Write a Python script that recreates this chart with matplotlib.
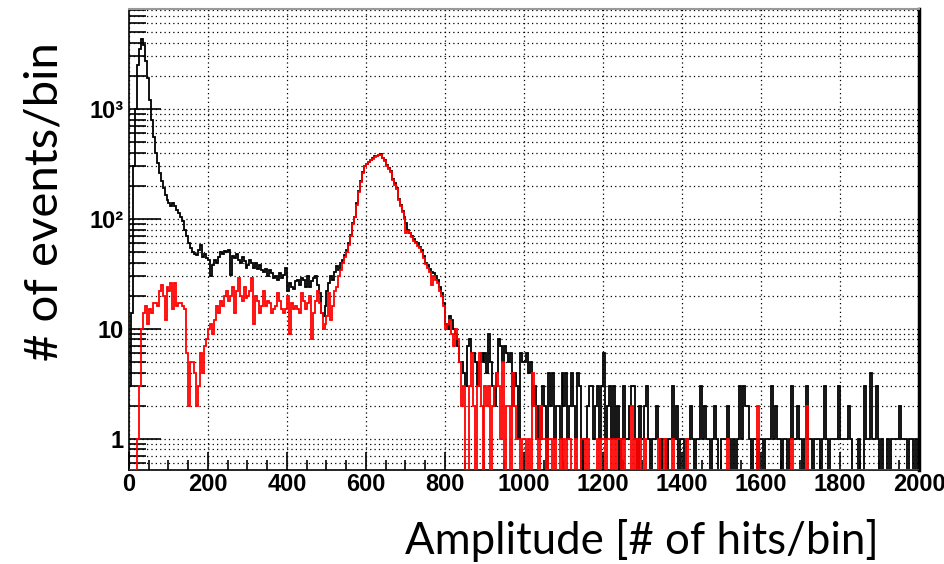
import numpy as np
import matplotlib.pyplot as plt
from matplotlib.ticker import FixedLocator, FixedFormatter, MultipleLocator, LogLocator, NullFormatter

# 直方图参数：0-2000，每个bin宽5
bin_width = 5
x_min, x_max = 0, 2000
y_min, y_max = 0.52, 8100

# 黑色直方图（每行20个bin = 100个单位）
black_counts = [
    3, 14, 300, 1000, 2500, 3500, 4300, 3800, 2700, 1900, 1200, 800, 560, 400, 320, 260, 220, 190, 165, 148,
    140, 132, 138, 130, 120, 112, 105, 95, 80, 70, 60, 54, 50, 48, 47, 52, 58, 45, 48, 44,
    42, 30, 38, 42, 40, 45, 50, 48, 51, 50, 52, 31, 46, 44, 48, 42, 40, 45, 41, 36,
    38, 42, 40, 36, 40, 35, 38, 34, 33, 35, 30, 34, 32, 29, 30, 28, 32, 29, 31, 36,
    22, 26, 24, 23, 27, 28, 25, 29, 28, 24, 30, 24, 27, 29, 30, 25, 21, 14, 13, 16,
    22, 26, 30, 28, 33, 37, 34, 40, 42, 47, 52, 60, 72, 92, 105, 138, 180, 220, 265, 300,
    318, 330, 343, 355, 370, 375, 380, 385, 360, 340, 310, 290, 270, 230, 210, 190, 150, 135, 118, 105,
    92, 80, 75, 70, 65, 62, 60, 56, 52, 46, 40, 38, 35, 33, 32, 30, 28, 24, 21, 17,
    11, 10, 13, 12, 10, 9, 7, 5, 5, 4, 3, 7, 8, 6, 6, 5, 3, 5, 6, 5,
    6, 4, 9, 5, 3, 2, 4, 8, 7, 5, 7, 6, 5, 6, 2, 4, 3, 1, 6, 5,
    5, 6, 4, 5, 2, 3, 1, 2, 1, 3, 2, 0, 4, 2, 4, 1, 2, 2, 1, 4,
    2, 4, 1, 2, 4, 2, 1, 4, 3, 0, 1, 1, 2, 3, 3, 1, 2, 3, 1, 3,
    6, 1, 2, 3, 1, 3, 1, 2, 0, 1, 3, 1, 1, 2, 3, 3, 1, 0, 2, 1,
    1, 2, 3, 1, 0, 1, 1, 2, 1, 0, 1, 1, 0, 1, 1, 3, 1, 2, 0, 1,
    1, 0, 1, 1, 2, 1, 0, 1, 1, 3, 1, 2, 1, 1, 0, 1, 2, 1, 0, 0,
    1, 1, 1, 2, 1, 0, 1, 0, 1, 3, 1, 3, 2, 2, 1, 0, 1, 1, 0, 1,
    1, 0, 1, 1, 1, 3, 1, 2, 1, 1, 0, 1, 1, 0, 1, 3, 1, 1, 2, 1,
    1, 0, 1, 3, 1, 1, 0, 1, 1, 1, 0, 1, 3, 1, 0, 1, 1, 1, 1, 3,
    1, 1, 1, 1, 2, 1, 0, 0, 0, 1, 0, 0, 3, 1, 1, 4, 1, 1, 3, 1,
    0, 1, 0, 0, 1, 0, 1, 1, 1, 1, 2, 1, 1, 1, 0, 1, 1, 0, 1, 0,
]

# 红色直方图
red_counts = [
    0, 0, 0, 0, 1, 3, 10, 14, 16, 11, 15, 14, 17, 17, 16, 22, 25, 20, 12, 24,
    22, 26, 15, 26, 16, 17, 17, 16, 15, 6, 2, 5, 5, 4, 2, 3, 6, 4, 7, 8,
    10, 11, 9, 12, 16, 14, 18, 16, 20, 22, 18, 20, 24, 14, 22, 29, 20, 18, 24, 19,
    20, 22, 29, 11, 20, 18, 14, 16, 22, 16, 18, 17, 14, 15, 16, 21, 18, 15, 14, 15,
    20, 9, 17, 15, 16, 15, 14, 21, 18, 15, 17, 20, 8, 14, 18, 22, 17, 14, 10, 11,
    13, 21, 12, 16, 22, 24, 30, 34, 40, 45, 50, 58, 70, 90, 105, 135, 175, 215, 260, 300,
    315, 328, 340, 350, 365, 372, 378, 382, 355, 335, 305, 285, 265, 225, 205, 185, 148, 130, 115, 100,
    74, 78, 74, 68, 63, 60, 57, 54, 50, 44, 39, 36, 33, 25, 30, 28, 26, 22, 20, 16,
    10, 11, 12, 9, 7, 10, 8, 5, 2, 3, 0, 0, 3, 6, 2, 0, 3, 6, 2, 0,
    3, 2, 3, 0, 2, 3, 4, 3, 1, 5, 0, 2, 2, 0, 4, 2, 1, 1, 0, 1,
    1, 0, 1, 0, 4, 2, 1, 0, 2, 1, 1, 0, 1, 1, 0, 1, 0, 0, 1, 0,
    1, 0, 1, 1, 0, 0, 1, 0, 0, 1, 1, 0, 1, 0, 0, 0, 0, 1, 0, 1,
    1, 0, 1, 1, 0, 1, 0, 1, 1, 0, 1, 0, 0, 0, 2, 0, 1, 0, 1, 0,
    0, 1, 0, 0, 0, 0, 0, 0, 1, 0, 0, 1, 0, 0, 0, 1, 0, 0, 0, 0,
    0, 0, 1, 0, 0, 0, 0, 0, 0, 0, 0, 0, 0, 0, 0, 0, 0, 0, 0, 0,
    0, 0, 0, 1, 0, 0, 0, 0, 0, 0, 0, 0, 0, 0, 0, 0, 0, 0, 2, 0,
    0, 0, 0, 0, 0, 0, 0, 0, 0, 0, 0, 0, 0, 0, 0, 1, 0, 0, 0, 0,
    0, 0, 0, 2, 0, 0, 0, 0, 0, 0, 0, 0, 0, 0, 0, 0, 0, 0, 0, 0,
    0, 0, 0, 0, 0, 0, 0, 0, 0, 0, 0, 0, 0, 0, 0, 0, 0, 0, 0, 0,
    0, 0, 0, 0, 0, 0, 0, 0, 0, 0, 0, 0, 0, 0, 0, 0, 0, 0, 0, 0,
]

x_ticks = [0, 200, 400, 600, 800, 1000, 1200, 1400, 1600, 1800, 2000]
y_ticks = [1, 10, 100, 1000]
y_tick_labels = ['1', '10', '10²', '10³']


def to_plot(counts):
    # 零计数画在底边上（和ROOT一样）
    c = np.array(counts, dtype=float)
    c[c <= 0] = y_min
    return c


plt.rcParams['font.family'] = 'Liberation Sans'

edges = np.arange(x_min, x_max + bin_width, bin_width)

fig = plt.figure(figsize=(9.45, 5.64), dpi=100)
ax = fig.add_axes([129 / 945, 94 / 564, 790 / 945, 461 / 564])
ax.set_yscale('log')

ax.stairs(to_plot(black_counts), edges, baseline=None, color='black', lw=1.3, zorder=3)
ax.stairs(to_plot(red_counts), edges, baseline=None, color='red', lw=1.3, zorder=4)

ax.set_xlim(x_min, x_max)
ax.set_ylim(y_min, y_max)

# 刻度
ax.xaxis.set_major_locator(FixedLocator(x_ticks))
ax.xaxis.set_minor_locator(MultipleLocator(50))
ax.yaxis.set_major_locator(FixedLocator(y_ticks))
ax.yaxis.set_major_formatter(FixedFormatter(y_tick_labels))
ax.yaxis.set_minor_locator(LogLocator(base=10, subs=np.arange(2, 10), numticks=30))
ax.yaxis.set_minor_formatter(NullFormatter())

ax.tick_params(which='both', direction='in', colors='black', width=1.2)
ax.tick_params(axis='y', which='major', length=23, pad=4, labelsize=17)
ax.tick_params(axis='y', which='minor', length=12)
ax.tick_params(axis='x', which='major', length=13, pad=2, labelsize=17)
ax.tick_params(axis='x', which='minor', length=7)
for lab in ax.get_xticklabels() + ax.get_yticklabels():
    lab.set_fontweight('bold')

# 网格（点线）
ax.set_axisbelow(True)
ax.grid(True, which='major', axis='x', color='black', linestyle=(0, (1, 2.5)), lw=0.9)
ax.grid(True, which='both', axis='y', color='black', linestyle=(0, (1, 2.5)), lw=0.9)

# 边框
ax.spines['left'].set_linewidth(1.2)
ax.spines['bottom'].set_linewidth(1.2)
ax.spines['top'].set_color('#999999')
ax.spines['top'].set_linewidth(1.5)
ax.spines['right'].set_linewidth(2.5)

# 坐标轴标题
fig.text(45 / 945, 1 - 202 / 564, '# of events/bin', rotation=90, ha='center', va='center',
         fontsize=34, family='Lato')
fig.text(642 / 945, 1 - 541 / 564, 'Amplitude [# of hits/bin]', ha='center', va='center',
         fontsize=31.5, family='Lato')

plt.savefig('out.png', dpi=100)
